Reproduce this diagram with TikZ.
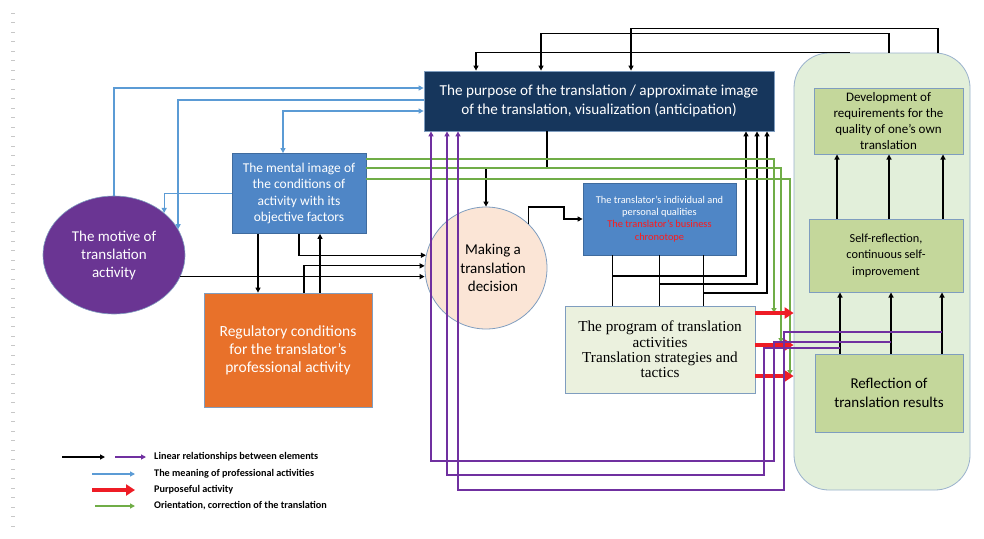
\documentclass[tikz,border=0pt]{standalone}
\usepackage{fontspec}
\setmainfont{Carlito}
\newfontfamily\timesfont{Liberation Serif}
\usetikzlibrary{arrows.meta, positioning, shapes.geometric, calc}

\definecolor{navy}{HTML}{16365C}
\definecolor{boxblue}{HTML}{4F86C6}
\definecolor{motivepurple}{HTML}{6A3593}
\definecolor{regorange}{HTML}{E8712A}
\definecolor{peach}{HTML}{FBE5D6}
\definecolor{panelgreen}{HTML}{E2EFDA}
\definecolor{boxgreen}{HTML}{C4D79B}
\definecolor{progreen}{HTML}{EBF1DE}
\definecolor{edgeblue}{HTML}{7F9DBF}
\definecolor{lineblue}{HTML}{5B9BD5}
\definecolor{linepurple}{HTML}{7030A0}
\definecolor{linegreen}{HTML}{70AD47}
\definecolor{linered}{HTML}{EE1C25}
\definecolor{txtred}{HTML}{FF1A1A}

\begin{document}
\begin{tikzpicture}[
            x=1pt, y=-1pt,
            box/.style={rectangle, inner sep=0pt, align=center, line width=0.8pt},
            greenbox/.style={box, fill=boxgreen, draw=edgeblue, line width=1pt},
            tip/.style={-{Triangle[length=5pt,width=5pt]}},
            blk/.style={tip, line width=1.2pt},
            thinblk/.style={line width=0.8pt},
            blu/.style={tip, draw=lineblue, line width=1.3pt},
            blutwo/.style={blu, {Triangle[length=5pt,width=5pt]}-{Triangle[length=5pt,width=5pt]}},
            pur/.style={tip, draw=linepurple, line width=1.1pt},
            grn/.style={tip, draw=linegreen, line width=1.3pt},
            redarr/.style={draw=linered, line width=4pt, -{Triangle[length=9pt,width=11pt]}},
            legend/.style={anchor=west, inner sep=0pt, font=\fontsize{10.2}{11}\selectfont\bfseries}
        ]
        \useasboundingbox (0,0) rectangle (984,538);
        \foreach \y in {13,22.5,...,532}
            \draw[black!22, line width=0.5pt] (11,\y) -- (15,\y);

        % right panel and its boxes
        \node[draw=edgeblue!80, fill=panelgreen, rounded corners=35pt, minimum width=176pt,
            minimum height=437pt, inner sep=0pt, line width=0.8pt] (panel) at (882,271.5) {};
        \node[greenbox, minimum width=149pt, minimum height=66pt, font=\fontsize{13}{16}\selectfont]
            (dev) at (888.5,121) {Development of\\requirements for the\\quality of one’s own\\translation};
        \node[greenbox, minimum width=154pt, minimum height=73pt, font=\fontsize{12.3}{16.5}\selectfont]
            (self) at (886,255.5) {Self-reflection,\\continuous self-\\improvement};
        \node[greenbox, minimum width=148pt, minimum height=78pt, font=\fontsize{15}{18.5}\selectfont]
            (reflect) at (889,393) {Reflection of\\translation results};

        % main elements
        \node[box, fill=navy, draw=edgeblue, text=white, minimum width=350pt, minimum height=60pt,
            font=\fontsize{15.2}{18.5}\selectfont] (purpose) at (599,101)
            {The purpose of the translation / approximate image\\of the translation, visualization (anticipation)};
        \node[box, fill=boxblue, draw=boxblue!80!black, text=white, minimum width=134pt, minimum height=80pt,
            font=\fontsize{13.5}{16.3}\selectfont] (mental) at (299,193.5)
            {The mental image of\\the conditions of\\activity with its\\objective factors};
        \node[ellipse, fill=motivepurple, draw=edgeblue, line width=0.6pt, inner sep=0pt, minimum width=142pt,
            minimum height=118pt, align=center, text=white, font=\fontsize{15}{18}\selectfont] (motive) at (114,255)
            {The motive of\\translation\\activity};
        \node[box, fill=regorange, draw=edgeblue, text=white, minimum width=168pt, minimum height=114pt,
            font=\fontsize{15.5}{18}\selectfont] (regul) at (288,350)
            {Regulatory conditions\\for the translator’s\\professional activity};
        \node[circle, fill=peach, draw=edgeblue, line width=0.8pt, inner sep=0pt, minimum size=122pt,
            label={[align=center, xshift=7pt, font=\fontsize{15}{18.5}\selectfont]center:Making a\\translation\\decision}]
            (decision) at (486,268) {};
        \node[box, fill=boxblue, draw=boxblue!80!black, text=white, minimum width=153pt, minimum height=72pt,
            font=\fontsize{10.4}{12.2}\selectfont] (qual) at (659.5,219)
            {The translator’s individual and\\personal qualities\\\textcolor{txtred}{The translator’s business}\\\textcolor{txtred}{chronotope}};
        \node[box, fill=progreen, draw=edgeblue, minimum width=190pt, minimum height=87pt,
            font=\timesfont\fontsize{15.2}{15.3}\selectfont] (program) at (660,349.5)
            {The program of translation\\activities\\Translation strategies and\\tactics};

        % black links
        \draw[blk] ([xshift=-32pt]panel.north) -| ([xshift=-123pt]purpose.north);
        \draw[blk] ([xshift=7pt]panel.north) -- ++(0,-19) -| ([xshift=-58pt]purpose.north);
        \draw[blk] ([xshift=56pt]panel.north) -- ++(0,-24) -| ([xshift=32pt]purpose.north);
        \draw[blk] ([xshift=-52pt]purpose.south) -- ++(0,37) -| (decision.north);
        \draw[blk] (decision.46) |- (564,207) |- (qual.west);
        \draw[blk] (mental.south) |- (decision.168);
        \draw[blk] ([xshift=16pt]regul.north) |- (decision.178);
        \draw[blk] (motive.342) -- (motive.342 -| decision.west);
        \draw[blk] ([xshift=-41pt]mental.south) -- ([xshift=-41pt]mental.south |- regul.north);
        \draw[blk] ([xshift=32pt]regul.north) -- ([xshift=32pt]regul.north |- mental.south);

        \foreach \dx [count=\i] in {-47.5,0,43.5} {
            \coordinate (q\i) at ([xshift=\dx pt]qual.south);
            \draw[thinblk] (q\i) -- (q\i |- program.north);
        }
        \draw[blk] (q1 |- 0,276) -| ([xshift=147pt]purpose.south);
        \draw[blk] (q2 |- 0,284) -| ([xshift=158pt]purpose.south);
        \draw[blk] (q3 |- 0,293) -| ([xshift=168pt]purpose.south);

        \foreach \dx in {-49,3,57}
            \draw[blk] ([xshift=\dx pt]self.north) -- ([xshift=\dx pt]self.north |- dev.south);
        \foreach \dx [count=\i] in {-49,2,53} {
            \coordinate (r\i) at ([xshift=\dx pt]reflect.north);
            \draw[blk] (r\i) -- (r\i |- self.south);
        }

        % meaning of professional activities
        \draw[blu] (motive.north) |- (purpose.west |- 0,88);
        \draw[blu] (purpose.west |- 0,100) -| (motive.22);
        \draw[blutwo] (purpose.west |- 0,111) -| ([xshift=-16pt]mental.north);
        \draw[blu] (mental.west) -| (motive.40);

        % orientation, correction
        \draw[grn] (mental.east |- 0,159) -| (774,313);
        \draw[grn] (mental.east |- 0,168) -| (781,343);
        \draw[grn] (mental.east |- 0,179) -| (790,375);

        % purposeful activity
        \foreach \yy in {313,345,376}
            \draw[redarr] (program.east |- 0,\yy) -- (panel.west |- 0,\yy);

        % linear relationships back to the purpose
        \draw[pur] (r1 |- 0,348) -| (764,475) -| ([xshift=-152pt]purpose.south);
        \draw[pur] (r2 |- 0,342) -| (774,461) -| ([xshift=-168pt]purpose.south);
        \draw[pur] (r3 |- 0,332) -| (784,490) -| ([xshift=-141pt]purpose.south);

        % legend
        \node[legend] (leg1) at (154,457) {Linear relationships between elements};
        \node[legend] (leg2) at (154,474) {The meaning of professional activities};
        \node[legend] (leg3) at (154,490) {Purposeful activity};
        \node[legend] (leg4) at (154,506) {Orientation, correction of the translation};
        \draw[blk] ([xshift=-92pt]leg1.west) -- ([xshift=-49pt]leg1.west);
        \draw[pur] ([xshift=-39pt]leg1.west) -- ([xshift=-8pt]leg1.west);
        \draw[blu] ([xshift=-62pt]leg2.west) -- ([xshift=-19pt]leg2.west);
        \draw[redarr] ([xshift=-62pt]leg3.west) -- ([xshift=-19pt]leg3.west);
        \draw[grn] ([xshift=-59pt]leg4.west) -- ([xshift=-19pt]leg4.west);
    \end{tikzpicture}
\end{document}
